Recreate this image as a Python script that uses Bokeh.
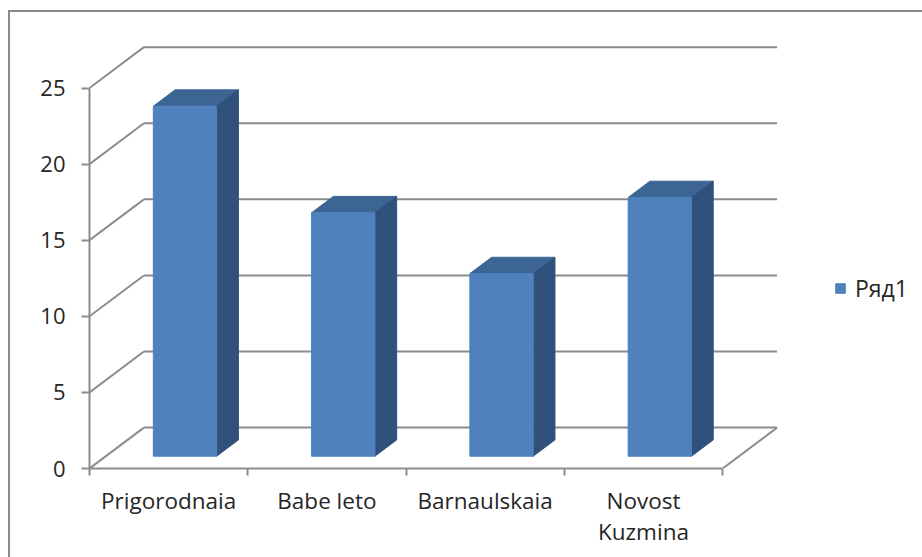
from bokeh.embed import file_html
from bokeh.resources import INLINE
from bokeh.plotting import figure
from bokeh.models import FixedTicker, Legend, LegendItem, Range1d, LinearAxis

categories = ["Prigorodnaia", "Babe leto", "Barnaulskaia", "Novost\nKuzmina"]
values = [23, 16, 12, 17]
series_name = "Ряд1"
y_ticks = [0, 5, 10, 15, 20, 25]

W, H = 912, 545
B_LEFT, B_BOTTOM = 79, 91          # frame offsets inside the figure
PX_PER_CAT, PX_PER_UNIT = 157.9, 15.15
DX = 54.3 / PX_PER_CAT             # wall depth in x units
DY = 40.7 / PX_PER_UNIT            # wall depth in y units
FRONT, BACK = 0.3, 0.7             # bar position within the depth
BAR_W = 0.4
GRID, TXT = "#8c8c8c", "#262626"
F_FRONT, F_TOP, F_SIDE = "#4f81bd", "#3c6594", "#31517d"
FONT = "Open Sans"

frame_w = W - B_LEFT
frame_h = H - B_BOTTOM - 8
p = figure(width=W, height=H, output_backend="svg", toolbar_location=None,
           x_range=Range1d(0, frame_w / PX_PER_CAT), y_range=Range1d(0, frame_h / PX_PER_UNIT),
           x_axis_location=None, y_axis_location=None,
           min_border_left=B_LEFT, min_border_right=0, min_border_top=8, min_border_bottom=B_BOTTOM,
           outline_line_color=None, background_fill_color="white", border_fill_color="white")
p.grid.visible = False
p.styles = {"border-top": "2px solid #8c8c8c", "border-left": "2px solid #8c8c8c",
            "margin-top": "10px", "margin-left": "8px", "box-sizing": "content-box"}

n = len(categories)
# left wall diagonals and back wall gridlines
p.multi_line([[0, DX] for _ in y_ticks], [[t, t + DY] for t in y_ticks], line_color=GRID, line_width=2)
p.multi_line([[DX, n + DX] for _ in y_ticks], [[t + DY, t + DY] for t in y_ticks], line_color=GRID, line_width=2)
# right floor edge
p.line([n, n + DX], [0, DY], line_color=GRID, line_width=2)

fx, fy, tx, ty, sx, sy = [], [], [], [], [], []
for i, v in enumerate(values):
    l = i + (1 - BAR_W) / 2 + FRONT * DX
    r = l + BAR_W
    b = FRONT * DY
    top = v + b
    ox, oy = (BACK - FRONT) * DX, (BACK - FRONT) * DY
    fx.append([l, r, r, l]); fy.append([b, b, top, top])
    tx.append([l, r, r + ox, l + ox]); ty.append([top, top, top + oy, top + oy])
    sx.append([r, r + ox, r + ox, r]); sy.append([b, b + oy, top + oy, top])
p.patches(tx, ty, fill_color=F_TOP, line_color=F_TOP, line_width=1)
p.patches(sx, sy, fill_color=F_SIDE, line_color=F_SIDE, line_width=1)
front = p.patches(fx, fy, fill_color=F_FRONT, line_color=F_FRONT, line_width=1)

xa = LinearAxis(bounds=(0, n))
xa.ticker = FixedTicker(ticks=[i + 0.5 for i in range(n)], minor_ticks=list(range(n + 1)))
xa.major_label_overrides = {i + 0.5: c for i, c in enumerate(categories)}
xa.major_tick_in = 0; xa.major_tick_out = 0
xa.minor_tick_in = 0; xa.minor_tick_out = 7
xa.minor_tick_line_color = GRID; xa.minor_tick_line_width = 2
xa.axis_line_color = GRID; xa.axis_line_width = 2
xa.major_label_text_font = FONT; xa.major_label_text_font_size = "22.5px"
xa.major_label_text_color = TXT; xa.major_label_standoff = 9
xa.major_label_text_line_height = 1.0
xa.major_label_orientation = "horizontal"
p.add_layout(xa, "below")

ya = LinearAxis(bounds=(0, 25))
ya.ticker = FixedTicker(ticks=y_ticks)
ya.major_tick_in = 0; ya.major_tick_out = 8
ya.major_tick_line_color = GRID; ya.major_tick_line_width = 2
ya.axis_line_color = GRID; ya.axis_line_width = 2
ya.major_label_text_font = FONT; ya.major_label_text_font_size = "22px"
ya.major_label_text_color = TXT; ya.major_label_standoff = 16
p.add_layout(ya, "left")

leg = Legend(items=[LegendItem(label=series_name, renderers=[front], index=0)],
             location=(745, 164), orientation="vertical",
             border_line_color=None, background_fill_alpha=0,
             glyph_width=12, glyph_height=12, label_text_font=FONT,
             label_text_font_size="23px", label_text_color=TXT, padding=0, margin=0, label_standoff=9)
p.add_layout(leg, "center")

open("out.html", "w").write(file_html(p, INLINE))
